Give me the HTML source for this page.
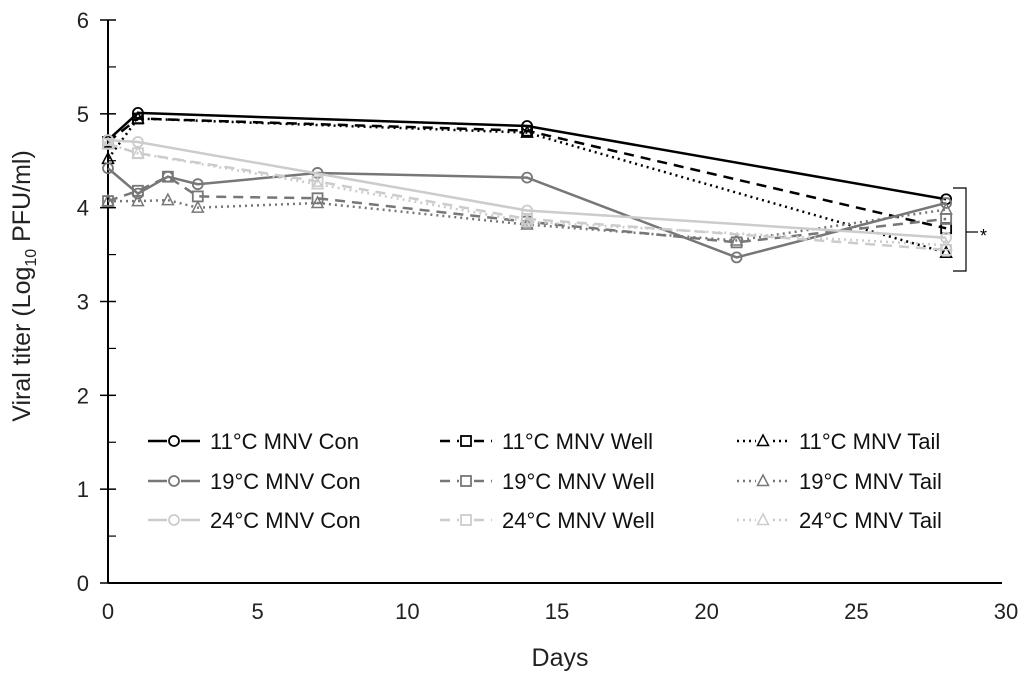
<!DOCTYPE html>
<html><head><meta charset="utf-8"><style>
body{margin:0;background:#fff}
text{font-family:"Liberation Sans",Arial,sans-serif}
</style></head><body>
<svg id="c" width="1030" height="678" xmlns="http://www.w3.org/2000/svg"></svg>
<script>
const days = [0,1,2,3,7,14,21,28];
const xTicks = [0,5,10,15,20,25,30];
const yTicks = [0,1,2,3,4,5,6];
const seriesNames = ["11°C MNV Con","11°C MNV Well","11°C MNV Tail","19°C MNV Con","19°C MNV Well","19°C MNV Tail","24°C MNV Con","24°C MNV Well","24°C MNV Tail"];
const s11Con  = [4.72,5.01,null,null,null,4.87,null,4.09];
const s11Well = [4.70,4.95,null,null,null,4.82,null,3.78];
const s11Tail = [4.52,4.95,null,null,null,4.80,null,3.52];
const s19Con  = [4.42,4.15,4.33,4.25,4.37,4.32,3.47,4.05];
const s19Well = [4.07,4.18,4.33,4.12,4.10,3.85,3.63,3.88];
const s19Tail = [4.07,4.07,4.08,4.00,4.05,3.82,3.65,3.98];
const s24Con  = [4.72,4.70,null,null,null,3.97,null,3.68];
const s24Well = [4.68,4.58,null,null,4.28,3.88,null,3.55];
const s24Tail = [4.68,4.58,null,null,4.25,3.85,null,3.60];
const allSeries=[s11Con,s11Well,s11Tail,s19Con,s19Well,s19Tail,s24Con,s24Well,s24Tail];
const colors=["#000","#000","#000","#777","#777","#777","#ccc","#ccc","#ccc"];
const dashes=["","10,7","2,4","","10,7","2,4","","10,7","2,4"];
const markers=["circle","square","triangle"];
const svg=document.getElementById('c');
const NS="http://www.w3.org/2000/svg";
const X=d=>108+d*(1006-108)/30;
const Y=v=>583-v*(583-20)/6;
function el(t,a,p){const e=document.createElementNS(NS,t);for(const k in a)e.setAttribute(k,a[k]);(p||svg).appendChild(e);return e;}
let ax=el('line',{x1:108,y1:20,x2:108,y2:583,stroke:'#000','stroke-width':2});


ax=el('line',{x1:108,y1:583,x2:1002,y2:583,stroke:'#000','stroke-width':2});


yTicks.forEach(v=>{el('line',{x1:100,x2:116,y1:Y(v),y2:Y(v),stroke:'#000','stroke-width':1.5});
if(v<6)el('line',{x1:108,x2:116,y1:Y(v+0.5),y2:Y(v+0.5),stroke:'#000','stroke-width':1.2});
const t=el('text',{x:89,y:Y(v)+8,'font-size':22,'text-anchor':'end',fill:'#222'});t.textContent=v;

});
xTicks.forEach(v=>{
const t=el('text',{x:X(v),y:619,'font-size':22,'text-anchor':'middle',fill:'#222'});t.textContent=v;

});
let t=el('text',{x:560,y:666,'font-size':25,'text-anchor':'middle',fill:'#222'});t.textContent='Days';


t=el('text',{transform:'translate(30,286) rotate(-90)','font-size':25,'text-anchor':'middle',fill:'#222'});
t.innerHTML='Viral titer (Log<tspan font-size="16" dy="6">10</tspan><tspan dy="-6"> PFU/ml)</tspan>';


function marker(type,x,y,c,g){
 if(type==='circle')return el('circle',{cx:x,cy:y,r:5,fill:'none',stroke:c,'stroke-width':1.8},g);
 if(type==='square')return el('rect',{x:x-5,y:y-5,width:10,height:10,fill:'none',stroke:c,'stroke-width':1.8},g);
 return el('polygon',{points:`${x},${y-6} ${x+5.5},${y+4.5} ${x-5.5},${y+4.5}`,fill:'none',stroke:c,'stroke-width':1.5},g);
}
allSeries.forEach((s,i)=>{
 const g=el('g',{});
 
 
 const pts=[];s.forEach((v,j)=>{if(v!=null)pts.push([X(days[j]),Y(v)]);});
 el('polyline',{points:pts.map(p=>p.join(',')).join(' '),fill:'none',stroke:colors[i],'stroke-width':2.5,'stroke-dasharray':dashes[i]},g);
 pts.forEach(p=>marker(markers[i%3],p[0],p[1],colors[i],g));
});
el('polyline',{points:`953,188 966,188 966,271 953,271`,fill:'none',stroke:'#000','stroke-width':1.2});
el('line',{x1:966,y1:232,x2:978,y2:232,stroke:'#000','stroke-width':1.2});
t=el('text',{x:980,y:242,'font-size':18,fill:'#000'});t.textContent='*';


const lx=[148,440,737],ly=[441,481,520];
seriesNames.forEach((n,i)=>{
 const g=el('g',{});
 
 
 const x=lx[i%3],y=ly[Math.floor(i/3)];
 el('line',{x1:x,x2:x+52,y1:y,y2:y,stroke:colors[i],'stroke-width':2.5,'stroke-dasharray':dashes[i]},g);
 el('rect',{x:x+19,y:y-7,width:14,height:14,fill:'#fff'},g);
 marker(markers[i%3],x+26,y,colors[i],g);
 const tt=el('text',{x:x+62,y:y+8,'font-size':22,fill:'#111'},g);tt.textContent=n;
});
</script>
</body></html>
